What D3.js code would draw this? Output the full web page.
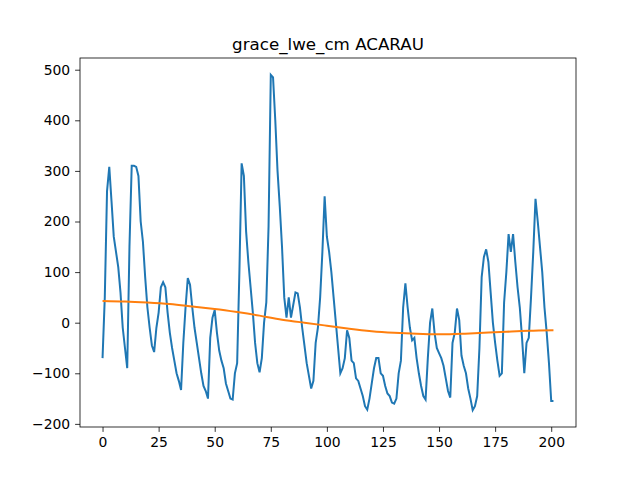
<!DOCTYPE html>
<html><head><meta charset="utf-8">
<script src="https://cdn.jsdelivr.net/npm/d3@7"></script>
<style>body{margin:0;background:#fff}text{font-family:"DejaVu Sans",sans-serif}</style>
</head><body>
<svg width="640" height="480"></svg>
<script>
const lwe = [-70,50,260,308,240,170,140,110,60,-10,-50,-90,150,310,310,308,290,200,160,90,
30,-10,-45,-58,-10,20,70,80,70,20,-20,-50,-75,-100,-115,-133,-40,30,88,75,
30,-10,-40,-70,-100,-125,-135,-150,-30,10,25,-20,-55,-75,-90,-120,-135,-150,-152,-100,
-80,100,315,290,180,120,70,20,-40,-80,-98,-70,0,40,190,490,485,400,300,230,
150,50,10,50,10,35,60,58,30,-10,-45,-80,-105,-130,-115,-40,-10,50,140,250,
170,140,100,50,0,-50,-100,-90,-70,-15,-30,-75,-80,-110,-115,-130,-145,-165,-172,-150,
-120,-90,-70,-70,-100,-105,-125,-140,-145,-158,-160,-150,-100,-75,30,78,30,-10,-35,-30,
-70,-100,-125,-145,-152,-70,0,28,-20,-50,-60,-70,-85,-110,-135,-148,-40,-20,28,5,
-65,-85,-100,-130,-150,-173,-165,-145,-50,90,130,145,120,60,0,-40,-75,-105,-100,40,
100,175,140,175,120,70,30,-30,-100,-40,-30,50,140,245,200,150,100,30,-20,-80,
-155,-155];
const trendX = [0,10,20,30,40,50,60,70,80,90,100,110,120,130,140,150,160,170,180,190,201];
const trendY = [43,42,40,37,32,27,21,14,6,0,-6,-12,-17,-20,-22,-23,-22,-20,-18,-16,-15];
const yTicks = [-200,-100,0,100,200,300,400,500];
const xTicks = [0,25,50,75,100,125,150,175,200];

const svg = d3.select("svg");
const L = 80, R = 576, T = 58, B = 427;
const xMax = lwe.length - 1;
const x = d3.scaleLinear().domain([-xMax*0.05, xMax*1.05]).range([L, R]);
const yMin = d3.min(lwe), yMaxV = d3.max(lwe), pad = (yMaxV - yMin)*0.05;
const y = d3.scaleLinear().domain([yMin - pad, yMaxV + pad]).range([B, T]);

const line = d3.line().x((d, i) => x(i)).y(d => y(d));
svg.append("path").datum(lwe).attr("d", line)
  .attr("fill", "none").attr("stroke", "#1f77b4").attr("stroke-width", 2);
svg.append("path").datum(trendX.map((v, i) => [v, trendY[i]]))
  .attr("d", d3.line().x(d => x(d[0])).y(d => y(d[1])).curve(d3.curveNatural))
  .attr("fill", "none").attr("stroke", "#ff7f0e").attr("stroke-width", 2);

const xa = svg.append("g").attr("transform", `translate(0,${B})`)
  .call(d3.axisBottom(x).tickValues(xTicks).tickSize(4.9).tickPadding(4.9).tickSizeOuter(0));
const ya = svg.append("g").attr("transform", `translate(${L},0)`)
  .call(d3.axisLeft(y).tickValues(yTicks).tickSize(4.9).tickPadding(4.9).tickSizeOuter(0));
[xa, ya].forEach(a => {
  a.select(".domain").remove();
  a.selectAll("text").attr("font-size", 13.9).attr("fill", "#000").attr("font-family", "DejaVu Sans");
  a.selectAll("line").attr("stroke", "#000").attr("stroke-width", 0.8);
});
svg.append("rect").attr("x", L).attr("y", T).attr("width", R - L).attr("height", B - T)
  .attr("fill", "none").attr("stroke", "#000").attr("stroke-width", 0.8);
svg.append("text").attr("x", (L + R)/2).attr("y", T - 8).attr("text-anchor", "middle")
  .attr("font-size", 16.7).text("grace_lwe_cm ACARAU");
</script>
</body></html>
